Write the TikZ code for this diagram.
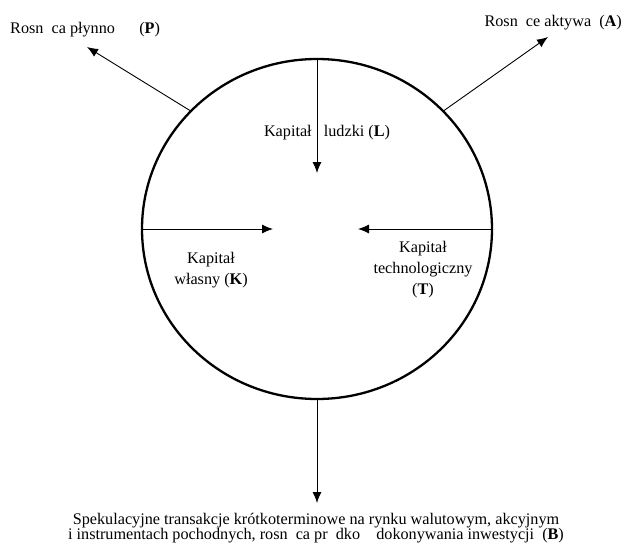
\documentclass[tikz,border=0pt]{standalone}
\usepackage{fontspec}
\setmainfont{Liberation Serif}
\usetikzlibrary{arrows.meta,shapes.geometric}
\begin{document}
\begin{tikzpicture}[x=1pt,y=-1pt,
  lbl/.style={inner sep=0pt, font=\fontsize{16.2}{21}\selectfont, align=center},
  arr/.style={line width=0.9pt, -{Latex[length=11pt,width=9pt]}}]
\useasboundingbox (0,0) rectangle (625,546);
\node[ellipse, draw, line width=2.3pt, minimum width=350pt, minimum height=340pt, inner sep=0pt] (c) at (317,229) {};
% targets
\coordinate (pEnd) at (87,47);
\coordinate (aEnd) at (548,37);
\coordinate (lEnd) at (317,173);
\coordinate (kEnd) at (273,229);
\coordinate (tEnd) at (358,229);
\coordinate (bEnd) at (317,503);
\draw[arr] (c.137) -- (pEnd);
\draw[arr] (c.43) -- (aEnd);
\draw[arr] (c.north) -- (lEnd);
\draw[arr] (c.west) -- (kEnd);
\draw[arr] (c.east) -- (tEnd);
\draw[arr] (c.south) -- (bEnd);
% labels
\node[lbl, anchor=base west] (P) at (10,33) {Rosn\ \ ca płynno\ \ \ \ \ \ (\textbf{P})};
\node[lbl, anchor=base east] (A) at (622,27) {Rosn\ \ ce aktywa\ \ (\textbf{A})};
\node[lbl, anchor=base] (L) at (327,136) {Kapitał\ \ \ ludzki (\textbf{L})};
\node[lbl] (K) at (211,270) {Kapitał\\własny (\textbf{K})};
\node[lbl] (T) at (423,270) {Kapitał\\technologiczny\\(\textbf{T})};
\node[lbl, font=\fontsize{16.2}{15.5}\selectfont] (B) at (316,528) {Spekulacyjne transakcje krótkoterminowe na rynku walutowym, akcyjnym\\
 i instrumentach pochodnych, rosn\ \ ca pr\ \ dko\ \ \ \ dokonywania inwestycji\ \ (\textbf{B})};
\end{tikzpicture}
\end{document}
